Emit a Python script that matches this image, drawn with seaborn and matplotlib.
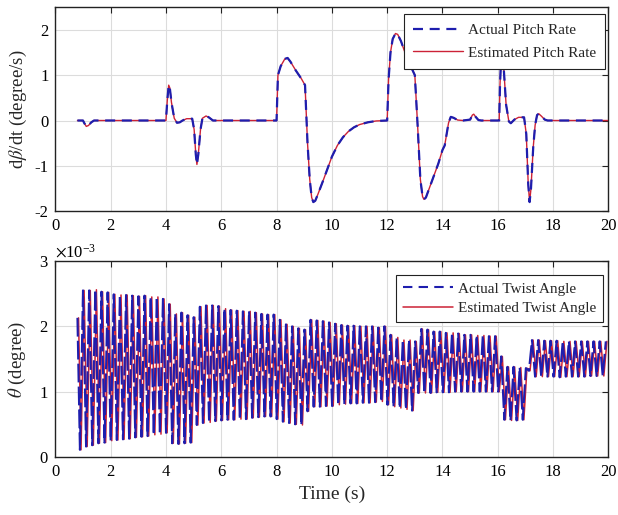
import numpy as np
import pandas as pd
import matplotlib
matplotlib.use("Agg")
import matplotlib.pyplot as plt
from matplotlib.ticker import ScalarFormatter
import seaborn as sns

# ---------------- pitch rate (s, degree/s) ----------------
pitch_time = [
    0.80, 1.00, 1.05, 1.12, 1.20, 1.30, 1.40,
    4.00, 4.05, 4.10, 4.14, 4.20, 4.30, 4.40, 4.50, 4.60, 4.75, 4.95,
    5.02, 5.08, 5.12, 5.17, 5.25, 5.32, 5.45, 5.55, 5.70,
    8.00, 8.05, 8.15, 8.30, 8.40, 8.50, 8.70, 8.90, 9.03,
    9.12, 9.20, 9.27, 9.33, 9.40, 9.50, 9.70, 9.85, 10.00, 10.20, 10.40,
    10.60, 10.80, 11.00, 11.30, 11.60,
    12.00, 12.05, 12.12, 12.20, 12.30, 12.38, 12.50, 12.70, 12.85, 13.00,
    13.10, 13.20, 13.28, 13.33, 13.40, 13.55, 13.70, 13.85, 14.00, 14.08,
    14.15, 14.22, 14.30, 14.40, 14.55, 14.75, 15.00, 15.08, 15.13, 15.20,
    15.30, 15.40,
    16.05, 16.08, 16.13, 16.17, 16.22, 16.30, 16.40, 16.47, 16.60, 16.75,
    16.95, 17.03, 17.10, 17.15, 17.20, 17.28, 17.35, 17.42, 17.48, 17.57,
    17.70, 17.80, 20.00,
]
pitch_rate_actual = [
    0.00, 0.00, -0.06, -0.13, -0.11, -0.04, 0.00,
    0.00, 0.45, 0.78, 0.72, 0.40, 0.05, -0.05, -0.04, 0.00, 0.04, 0.04,
    -0.20, -0.75, -0.97, -0.75, -0.20, 0.05, 0.10, 0.07, 0.00,
    0.00, 1.00, 1.20, 1.36, 1.38, 1.30, 1.10, 0.92, 0.78,
    -0.50, -1.30, -1.70, -1.80, -1.77, -1.62, -1.30, -1.05, -0.80, -0.55, -0.37,
    -0.24, -0.15, -0.09, -0.04, -0.01,
    0.00, 0.90, 1.50, 1.80, 1.92, 1.90, 1.75, 1.40, 1.20, 1.00,
    -0.10, -1.30, -1.68, -1.74, -1.70, -1.45, -1.20, -0.95, -0.65, -0.55,
    -0.30, -0.05, 0.08, 0.06, 0.01, 0.00, 0.02, 0.12, 0.14, 0.08,
    0.01, 0.00,
    0.00, 0.80, 1.50, 1.55, 1.10, 0.35, -0.02, -0.06, 0.02, 0.07,
    0.07, -0.30, -1.40, -1.80, -1.50, -0.60, -0.10, 0.12, 0.15, 0.10,
    0.02, 0.00, 0.00,
]
pitch_rate_estimated = list(pitch_rate_actual)

# ---------------- twist angle (extrema, in 1e-3 degree) ----------------
twist_start_time = 0.80
twist_start_value = 2.13
twist_first_trough_time = 0.89
twist_half_period = 0.1112
estimator_lag = 0.04

twist_troughs = [
    0.11, 0.16, 0.18, 0.21, 0.22, 0.25, 0.26, 0.27, 0.28, 0.30, 0.31, 0.32, 0.34, 0.35, 0.37,
    0.21, 0.20, 0.21, 0.22,
    0.49, 0.52, 0.53, 0.55, 0.56, 0.57, 0.57, 0.58, 0.58, 0.60, 0.61, 0.62, 0.62,
    0.58, 0.54, 0.52, 0.50, 0.49,
    0.70, 0.77, 0.77, 0.78, 0.78, 0.80, 0.81, 0.82, 0.82, 0.83, 0.83, 0.84, 0.85, 0.80,
    0.77, 0.75, 0.73, 0.71,
    0.98, 0.98, 0.98, 0.99, 0.99, 0.99, 1.00, 1.00, 1.00, 1.00, 1.00, 1.00, 1.00, 1.00,
    0.57, 0.56, 0.56, 0.57,
    1.32,
    1.23, 1.23, 1.23, 1.23, 1.22, 1.23, 1.23, 1.23, 1.23, 1.24, 1.24, 1.24,
]
twist_peaks = [
    2.55, 2.55, 2.56, 2.53, 2.52, 2.49, 2.48, 2.48, 2.47, 2.46, 2.47, 2.45, 2.45, 2.42,
    2.34,
    2.19, 2.21, 2.17, 2.14,
    2.30, 2.32, 2.32, 2.31, 2.27, 2.25, 2.24, 2.23, 2.23, 2.21, 2.19, 2.18, 2.18,
    2.10, 2.03, 2.00, 1.97, 1.95,
    2.10, 2.09, 2.08, 2.06, 2.04, 2.02, 2.01, 2.01, 2.00, 2.00, 2.00, 1.98, 2.00,
    1.87, 1.83, 1.79, 1.79, 1.77,
    1.96, 1.95, 1.92, 1.92, 1.90, 1.90, 1.89, 1.87, 1.87, 1.86, 1.86, 1.85, 1.85,
    1.54,
    1.38, 1.38, 1.37, 1.36,
    1.79, 1.79, 1.78, 1.78, 1.78, 1.77, 1.77, 1.77, 1.77, 1.77, 1.77, 1.77, 1.77,
]

x_ticks = [0, 2, 4, 6, 8, 10, 12, 14, 16, 18, 20]
pitch_ticks = [-2, -1, 0, 1, 2]
twist_ticks = [0, 1e-3, 2e-3, 3e-3]

ACTUAL_COLOR = "#1e1eae"
ESTIMATED_COLOR = "#cc2236"
ACTUAL_DASH = (0, (4.5, 3))


def twist_series(start_offset):
    k = np.arange(len(twist_peaks))
    trough_t = twist_first_trough_time + 2 * k * twist_half_period + start_offset
    peak_t = trough_t + twist_half_period
    t = np.concatenate([[twist_start_time + start_offset],
                        np.column_stack([trough_t, peak_t]).ravel()])
    v = np.concatenate([[twist_start_value],
                        np.column_stack([twist_troughs, twist_peaks]).ravel()]) * 1e-3
    return pd.DataFrame({"time": t, "theta": v})


pitch_df = pd.DataFrame({"time": pitch_time,
                         "actual": pitch_rate_actual,
                         "estimated": pitch_rate_estimated})
twist_actual = twist_series(0.0)
twist_est = twist_series(estimator_lag)

sns.set_theme(style="whitegrid")
plt.rcParams["font.family"] = ["Liberation Serif", "DejaVu Serif"]
plt.rcParams["mathtext.fontset"] = "stix"
plt.rcParams["axes.unicode_minus"] = False

fig = plt.figure(figsize=(6.18, 5.15), dpi=100)
ax1 = fig.add_axes([0.0895, 0.590, 0.895, 0.396])
ax2 = fig.add_axes([0.0895, 0.1126, 0.895, 0.3806])

# top: pitch rate
sns.lineplot(data=pitch_df, x="time", y="estimated", ax=ax1, color=ESTIMATED_COLOR,
             linewidth=1.0, estimator=None, sort=False, zorder=3,
             label="Estimated Pitch Rate", legend=False)
sns.lineplot(data=pitch_df, x="time", y="actual", ax=ax1, color=ACTUAL_COLOR,
             linewidth=1.6, estimator=None, sort=False, zorder=4,
             linestyle=ACTUAL_DASH, label="Actual Pitch Rate", legend=False)
ax1.set_ylim(-2, 2.5)
ax1.set_yticks(pitch_ticks)
ax1.set_ylabel(r"d$\beta$/dt (degree/s)", fontsize=13.5, labelpad=4)
ax1.set_xlabel("")

# bottom: twist angle
sns.lineplot(data=twist_est, x="time", y="theta", ax=ax2, color=ESTIMATED_COLOR,
             linewidth=1.1, estimator=None, sort=False, zorder=3,
             label="Estimated Twist Angle", legend=False)
sns.lineplot(data=twist_actual, x="time", y="theta", ax=ax2, color=ACTUAL_COLOR,
             linewidth=1.5, estimator=None, sort=False, zorder=4,
             linestyle=(0, (9, 2)), label="Actual Twist Angle", legend=False)
ax2.set_ylim(0, 3e-3)
ax2.set_yticks(twist_ticks)
fmt = ScalarFormatter(useMathText=True)
fmt.set_powerlimits((-2, 2))
ax2.yaxis.set_major_formatter(fmt)
ax2.yaxis.get_offset_text().set_fontsize(12)
ax2.set_ylabel(r"$\theta$ (degree)", fontsize=13.5, labelpad=8)
ax2.set_xlabel("Time (s)", fontsize=14, labelpad=4)

for ax in (ax1, ax2):
    ax.set_xlim(0, 20)
    ax.set_xticks(x_ticks)
    ax.grid(True, color="#dcdcdc", linewidth=0.8)
    ax.set_axisbelow(True)
    for s in ax.spines.values():
        s.set_color("#222222")
        s.set_linewidth(1.0)
    ax.tick_params(direction="in", top=True, right=True, length=4, width=0.8,
                   color="#222222", labelsize=12, pad=5, labelcolor="black")


def legend_box(ax, anchor, spacing, pad):
    handles, labels = ax.get_legend_handles_labels()
    order = [1, 0]
    leg = ax.legend([handles[i] for i in order], [labels[i] for i in order],
                    loc="upper right", bbox_to_anchor=anchor,
                    bbox_transform=fig.transFigure, borderaxespad=0, fontsize=11,
                    frameon=True, fancybox=False, edgecolor="#222222", framealpha=1,
                    handlelength=3.3, labelspacing=spacing, borderpad=pad,
                    handletextpad=0.3)
    leg.get_frame().set_linewidth(0.8)
    for line in leg.get_lines():
        line.set_linestyle(ACTUAL_DASH if line.get_color() == ACTUAL_COLOR else "-")
    return leg


legend_box(ax1, (605 / 618, 1 - 14 / 515), 0.6, 0.6)
legend_box(ax2, (603 / 618, 1 - 275 / 515), 0.4, 0.45)

fig.savefig("out.png", dpi=100)
